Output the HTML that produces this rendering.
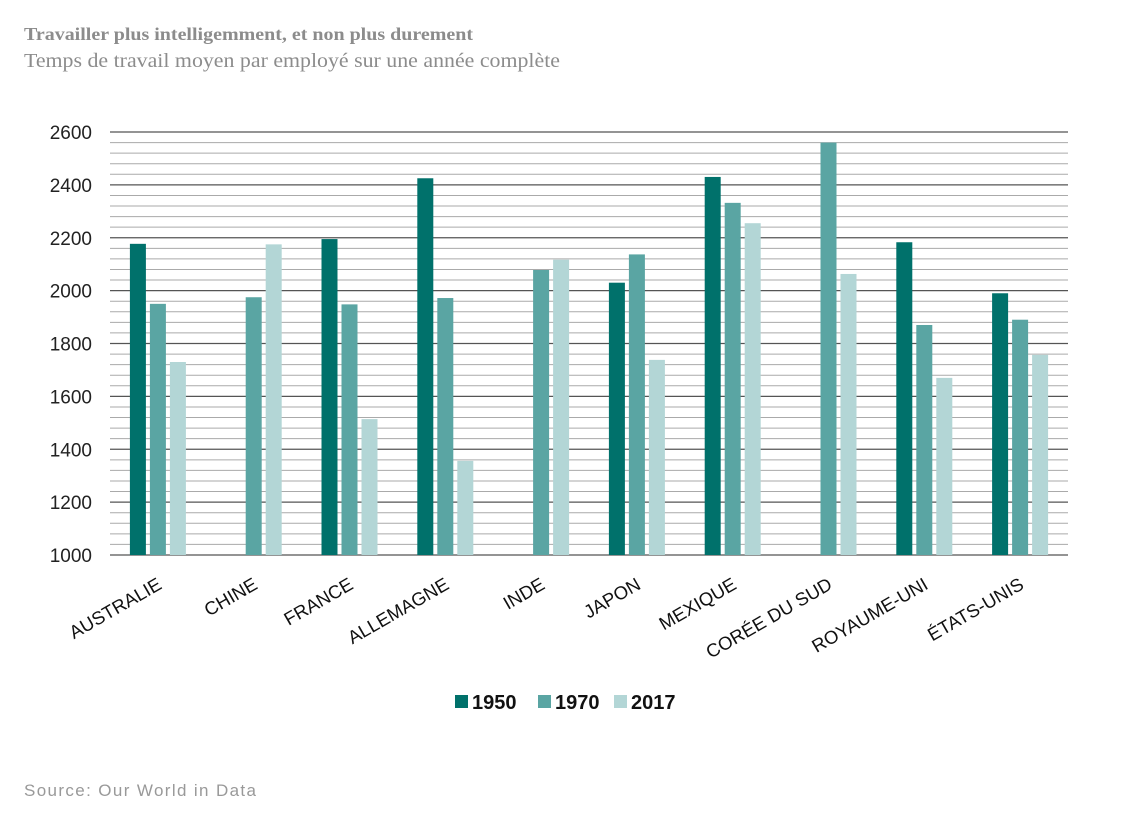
<!DOCTYPE html>
<html><head><meta charset="utf-8"><style>
body{margin:0;background:#fff;width:1138px;height:811px;overflow:hidden;font-family:"Liberation Sans",sans-serif}
</style></head><body>
<svg width="1138" height="811">
<text x="24" y="40" font-family="Liberation Serif" font-weight="bold" font-size="18" fill="#8c8c8c" textLength="449" lengthAdjust="spacingAndGlyphs">Travailler plus intelligemment, et non plus durement</text>
<text x="24" y="67" font-family="Liberation Serif" font-size="20" fill="#8c8c8c" textLength="536" lengthAdjust="spacingAndGlyphs">Temps de travail moyen par employé sur une année complète</text>
<g id="grid"></g><g id="bars"></g><g id="xlabels"></g>
<g font-size="20" font-weight="bold" fill="#111">
<rect x="455" y="695" width="13" height="13" fill="#00716b"/><text x="472" y="709">1950</text>
<rect x="538" y="695" width="13" height="13" fill="#5aa5a3"/><text x="555" y="709">1970</text>
<rect x="614" y="695" width="13" height="13" fill="#b3d6d6"/><text x="631" y="709">2017</text>
</g>
<text x="24" y="796" font-size="17" fill="#999" textLength="232" lengthAdjust="spacing">Source: Our World in Data</text>
</svg>
<script>
const categories=["AUSTRALIE","CHINE","FRANCE","ALLEMAGNE","INDE","JAPON","MEXIQUE","CORÉE DU SUD","ROYAUME-UNI","ÉTATS-UNIS"];
const s1950=[2177,null,2195,2425,null,2030,2430,null,2183,1990];
const s1970=[1950,1975,1948,1972,2078,2137,2332,2560,1870,1890];
const s2017=[1730,2175,1514,1356,2117,1738,2255,2063,1670,1757];
const yTicks=[1000,1200,1400,1600,1800,2000,2200,2400,2600];
const NS="http://www.w3.org/2000/svg";
const x0=110,x1=1068,yTop=132,yBot=555,vMin=1000,vMax=2600;
const y=v=>yBot-(v-vMin)/(vMax-vMin)*(yBot-yTop);
const gw=(x1-x0)/categories.length;
function mk(t,a,p){const e=document.createElementNS(NS,t);for(const k in a)e.setAttribute(k,a[k]);p.appendChild(e);return e;}
const grid=document.getElementById('grid');
for(let v=vMin;v<=vMax;v+=40){
 const major=(v-vMin)%200===0;
 const l=mk('line',{x1:x0,x2:x1,y1:y(v),y2:y(v),stroke:major?'#555':'#aaa','stroke-width':major?1.2:1},grid);
 
 
}
yTicks.forEach(v=>{
 const t=mk('text',{x:92,y:y(v)+7,'text-anchor':'end','font-size':19,fill:'#222'},grid);
 t.textContent=v;
 
 
});
const bars=document.getElementById('bars'),xl=document.getElementById('xlabels');
const series=[[s1950,'#00716b','1950'],[s1970,'#5aa5a3','1970'],[s2017,'#b3d6d6','2017']];
categories.forEach((c,i)=>{
 const cx=x0+gw*(i+0.5);
 series.forEach(([arr,col,nm],j)=>{
  const v=arr[i]; if(v==null) return;
  const bx=cx-28+j*20;
  const r=mk('rect',{x:bx,y:y(v),width:16,height:yBot-y(v),fill:col},bars);
  
  
 });
 const ax=cx+5,ay=588;
 const t=mk('text',{x:ax,y:ay,'text-anchor':'end','font-size':18.5,fill:'#111',transform:`rotate(-30 ${ax} ${ay})`},xl);
 t.textContent=c;
 
 
});
</script>
</body></html>
